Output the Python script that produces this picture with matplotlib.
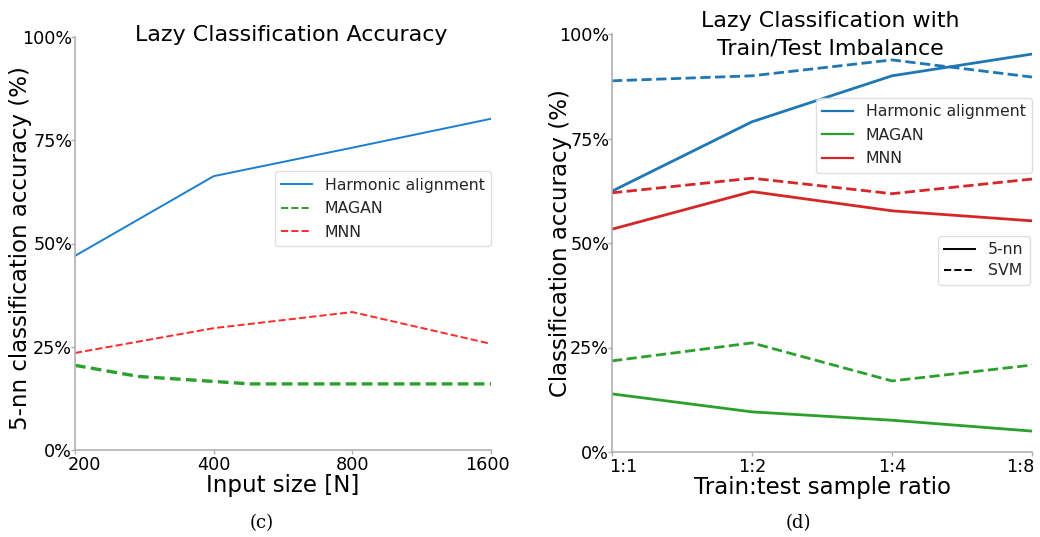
import matplotlib
matplotlib.use("Agg")
import matplotlib.pyplot as plt
from matplotlib.lines import Line2D
from matplotlib.transforms import ScaledTranslation
import numpy as np

plt.rcParams['font.family'] = ['DejaVu Sans']

# ---- Panel (c) data ----
sizes = [200, 400, 800, 1600]
harmonic_c = [47.0, 66.3, 73.2, 80.2]
mnn_c = [23.5, 29.5, 33.4, 25.7]
magan_sizes = [200, 275, 400, 480, 800, 1600]
magan_c = [20.5, 17.8, 16.6, 16.0, 16.0, 16.0]
size_ticks = ['200', '400', '800', '1600']

# ---- Panel (d) data ----
ratios = ['1:1', '1:2', '1:4', '1:8']
harmonic_knn = [62.4, 79.0, 90.0, 95.2]
harmonic_svm = [88.8, 90.0, 93.8, 89.7]
magan_knn = [13.9, 9.6, 7.6, 5.0]
magan_svm = [21.8, 26.1, 17.0, 20.8]
mnn_knn = [53.3, 62.3, 57.7, 55.3]
mnn_svm = [62.0, 65.5, 61.8, 65.3]
pct_ticks = [0, 25, 50, 75, 100]

fig = plt.figure(figsize=(10.4, 5.37), dpi=100)
ax1 = fig.add_axes([75/1040, 1-450/537, 416/1040, 413/537])
ax2 = fig.add_axes([612/1040, 1-452/537, 420/1040, 418/537])

spine_col = '#b0b0b0'
for ax in (ax1, ax2):
    for s in ('top', 'right'):
        ax.spines[s].set_visible(False)
    for s in ('left', 'bottom'):
        ax.spines[s].set_color(spine_col)
        ax.spines[s].set_linewidth(1.2)
    ax.tick_params(axis='both', colors=spine_col, labelcolor='black',
                   labelsize=12.7, length=3, width=1)
    ax.tick_params(axis='y', pad=-1)
    ax.tick_params(axis='x', pad=1)
    ax.set_ylim(0, 100)
    ax.set_yticks(pct_ticks)
    ax.set_yticklabels([f'{t}%' for t in pct_ticks])

# ---- Panel (c) ----
blue_c = '#1a7fd0'
red_c = '#ff2a2a'
green = '#2ca02c'
ax1.set_xscale('log', base=2)
ax1.plot(sizes, harmonic_c, color=blue_c, lw=1.4)
ax1.plot(magan_sizes, magan_c, color=green, lw=2.4, ls=(0, (3.2, 1.6)))
ax1.plot(sizes, mnn_c, color=red_c, lw=1.4, ls='--')
ax1.set_xlim(200, 1600)
ax1.set_xticks(sizes)
ax1.set_xticklabels(size_ticks)
ax1.minorticks_off()
ax1.set_xlabel('Input size [N]', fontsize=16.5, labelpad=0)
ax1.set_ylabel('5-nn classification accuracy (%)', fontsize=16.5)
ax1.yaxis.set_label_coords(-0.103, 0.49)
ax1.text(0.519, 0.99, 'Lazy Classification Accuracy', transform=ax1.transAxes,
         ha='center', va='baseline', fontsize=15.9)
h_c = [Line2D([], [], color=blue_c, lw=1.4), Line2D([], [], color=green, lw=1.4, ls='--'),
       Line2D([], [], color=red_c, lw=1.4, ls='--')]
leg1 = ax1.legend(h_c, ['Harmonic alignment', 'MAGAN', 'MNN'], loc='upper right',
                  bbox_to_anchor=(1.0, 0.675), borderaxespad=0,
                  fontsize=11.3, labelspacing=0.55, frameon=True, fancybox=True)
leg1.get_frame().set_edgecolor('#d8d8d8')
for t in leg1.get_texts():
    t.set_color('#262626')

# ---- Panel (d) ----
blue = '#1f77b4'
red = '#d62728'
x = np.arange(len(ratios))
ax2.plot(x, harmonic_knn, color=blue, lw=2)
ax2.plot(x, harmonic_svm, color=blue, lw=2, ls='--')
ax2.plot(x, magan_knn, color=green, lw=2)
ax2.plot(x, magan_svm, color=green, lw=2, ls='--')
ax2.plot(x, mnn_knn, color=red, lw=2)
ax2.plot(x, mnn_svm, color=red, lw=2, ls='--')
ax2.set_xlim(0, 3)
ax2.set_xticks(x)
ax2.set_xticklabels(ratios)
ax2.set_xlabel('Train:test sample ratio', fontsize=16.5, labelpad=0)
ax2.set_ylabel('Classification accuracy (%)', fontsize=16.5)
ax2.yaxis.set_label_coords(-0.095, 0.5)
ax2.text(0.519, 1.017, 'Lazy Classification with', transform=ax2.transAxes,
         ha='center', va='baseline', fontsize=15.9)
ax2.text(0.519, 0.952, 'Train/Test Imbalance', transform=ax2.transAxes,
         ha='center', va='baseline', fontsize=15.9)

h_methods = [Line2D([], [], color=blue, lw=1.6), Line2D([], [], color=green, lw=1.6),
             Line2D([], [], color=red, lw=1.6)]
legA = ax2.legend(h_methods, ['Harmonic alignment', 'MAGAN', 'MNN'], loc='upper right',
                  bbox_to_anchor=(1.0, 0.847), borderaxespad=0, fontsize=11.3,
                  labelspacing=0.55)
legA.get_frame().set_edgecolor('#d8d8d8')
for t in legA.get_texts():
    t.set_color('#262626')
ax2.add_artist(legA)
h_types = [Line2D([], [], color='black', lw=1.4), Line2D([], [], color='black', lw=1.4, ls='--')]
legB = ax2.legend(h_types, ['5-nn', 'SVM'], loc='upper right', bbox_to_anchor=(0.995, 0.517),
                  borderaxespad=0, fontsize=11.3, labelspacing=0.4)
legB.get_frame().set_edgecolor('#d8d8d8')
for t in legB.get_texts():
    t.set_color('#262626')

# shift edge tick labels as in the reference
def shift_label(ax, idx, dx_px):
    lab = ax.get_xticklabels()[idx]
    lab.set_transform(lab.get_transform() + ScaledTranslation(dx_px/100, 0, fig.dpi_scale_trans))

shift_label(ax1, 0, 9)
shift_label(ax1, 3, -4)
shift_label(ax2, 0, 11)
shift_label(ax2, 3, -12)

# captions
fig.text(262/1040, 1-523/537, '(c)', ha='center', va='center', fontsize=13,
         family='DejaVu Serif')
fig.text(798/1040, 1-523/537, '(d)', ha='center', va='center', fontsize=13,
         family='DejaVu Serif')

fig.savefig('out.png', dpi=100)
